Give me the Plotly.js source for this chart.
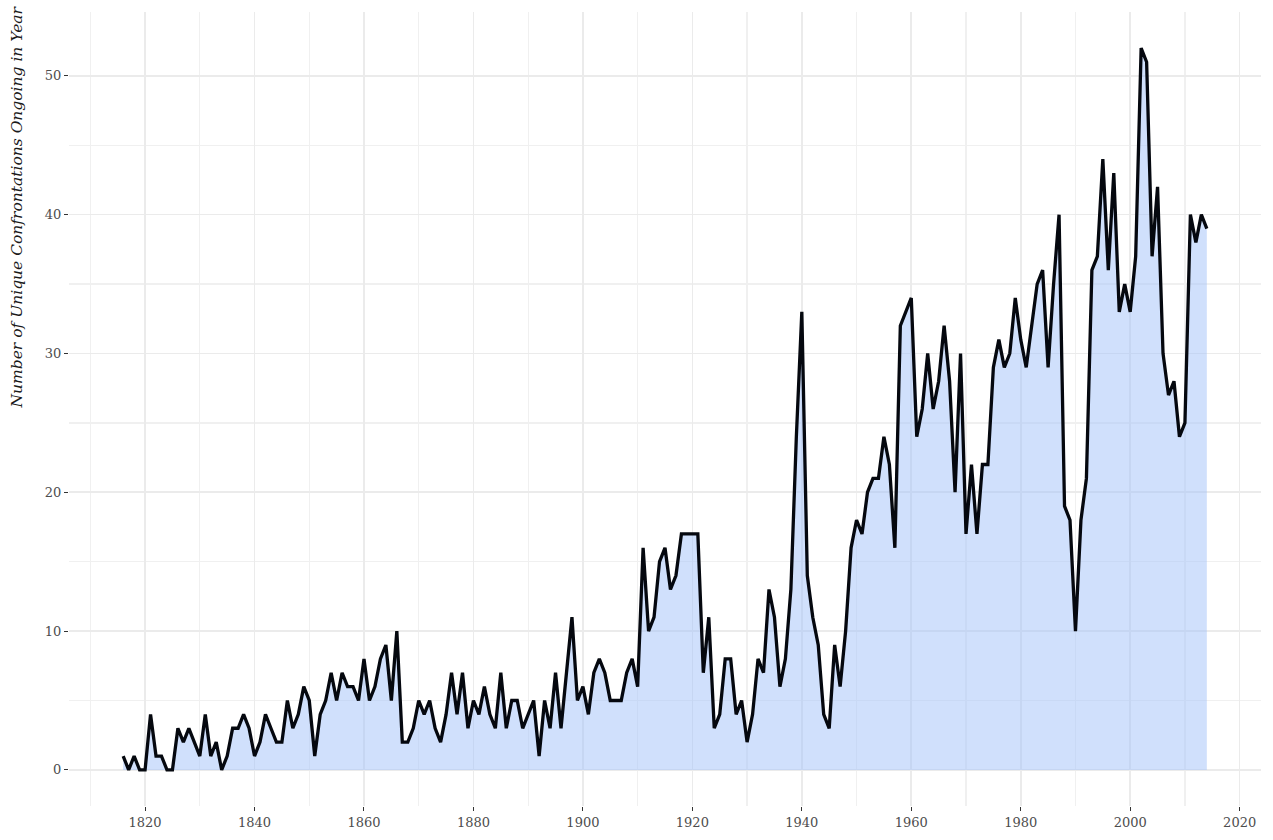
<!DOCTYPE html>
<html>
<head>
<meta charset="utf-8">
<script src="https://cdn.plot.ly/plotly-3.0.1.min.js"></script>
<style>
html,body{margin:0;padding:0;background:#fff;}
#chart{width:1273px;height:840px;}
</style>
</head>
<body>
<div id="chart"></div>
<script>
const years = [
1816,1817,1818,1819,1820,1821,1822,1823,1824,1825,1826,1827,1828,1829,
1830,1831,1832,1833,1834,1835,1836,1837,1838,1839,
1840,1841,1842,1843,1844,1845,1846,1847,1848,1849,
1850,1851,1852,1853,1854,1855,1856,1857,1858,1859,
1860,1861,1862,1863,1864,1865,1866,1867,1868,1869,
1870,1871,1872,1873,1874,1875,1876,1877,1878,1879,
1880,1881,1882,1883,1884,1885,1886,1887,1888,1889,
1890,1891,1892,1893,1894,1895,1896,1897,1898,1899,
1900,1901,1902,1903,1904,1905,1906,1907,1908,1909,
1910,1911,1912,1913,1914,1915,1916,1917,1918,1919,
1920,1921,1922,1923,1924,1925,1926,1927,1928,1929,
1930,1931,1932,1933,1934,1935,1936,1937,1938,1939,
1940,1941,1942,1943,1944,1945,1946,1947,1948,1949,
1950,1951,1952,1953,1954,1955,1956,1957,1958,1959,
1960,1961,1962,1963,1964,1965,1966,1967,1968,1969,
1970,1971,1972,1973,1974,1975,1976,1977,1978,1979,
1980,1981,1982,1983,1984,1985,1986,1987,1988,1989,
1990,1991,1992,1993,1994,1995,1996,1997,1998,1999,
2000,2001,2002,2003,2004,2005,2006,2007,2008,2009,
2010,2011,2012,2013,2014
];

const confrontations = [
1,0,1,0,0,4,1,1,0,0,3,2,3,2,
1,4,1,2,0,1,3,3,4,3,
1,2,4,3,2,2,5,3,4,6,
5,1,4,5,7,5,7,6,6,5,
8,5,6,8,9,5,10,2,2,3,
5,4,5,3,2,4,7,4,7,3,
5,4,6,4,3,7,3,5,5,3,
4,5,1,5,3,7,3,7,11,5,
6,4,7,8,7,5,5,5,7,8,
6,16,10,11,15,16,13,14,17,17,
17,17,7,11,3,4,8,8,4,5,
2,4,8,7,13,11,6,8,13,24,
33,14,11,9,4,3,9,6,10,16,
18,17,20,21,21,24,22,16,32,33,
34,24,26,30,26,28,32,28,20,30,
17,22,17,22,22,29,31,29,30,34,
31,29,32,35,36,29,35,40,19,18,
10,18,21,36,37,44,36,43,33,35,
33,37,52,51,37,42,30,27,28,24,
25,40,38,40,39
];

const yTitle = 'Number of Unique Confrontations Ongoing in Year';

const trace = {
  x: years,
  y: confrontations,
  type: 'scatter',
  mode: 'lines',
  fill: 'tozeroy',
  fillcolor: 'rgba(161,193,249,0.5)',
  line: {color: '#05080f', width: 3.3},
  hoverinfo: 'x+y'
};

const gridMajor = '#ebebeb';
const gridMinor = '#f0f0f0';
const tickFont = {family: 'DejaVu Serif', size: 13, color: '#4d4d4d'};

const layout = {
  width: 1273,
  height: 840,
  margin: {l: 69, r: 12, t: 12, b: 34},
  paper_bgcolor: '#ffffff',
  plot_bgcolor: '#ffffff',
  showlegend: false,
  xaxis: {
    range: [1806.1, 2023.9],
    tick0: 1820,
    dtick: 20,
    showgrid: true,
    gridcolor: gridMajor,
    gridwidth: 1.6,
    zeroline: false,
    showline: false,
    ticks: 'outside',
    ticklen: 4,
    tickwidth: 1,
    tickcolor: '#333333',
    tickfont: tickFont,
    minor: {dtick: 10, showgrid: true, gridcolor: gridMinor, gridwidth: 1.3}
  },
  yaxis: {
    range: [-2.6, 54.6],
    tick0: 0,
    dtick: 10,
    showgrid: true,
    gridcolor: gridMajor,
    gridwidth: 1.6,
    zeroline: false,
    showline: false,
    ticks: 'outside',
    ticklen: 4,
    tickwidth: 1,
    tickcolor: '#333333',
    tickfont: tickFont,
    minor: {tick0: 5, dtick: 10, showgrid: true, gridcolor: gridMinor, gridwidth: 1.3}
  },
  annotations: [{
    text: '<i>' + yTitle + '</i>',
    xref: 'paper', yref: 'paper',
    x: -0.0436, y: 1.0101,
    xanchor: 'center', yanchor: 'top',
    textangle: -90,
    showarrow: false,
    font: {family: 'DejaVu Serif', size: 15.5, color: '#1a1a1a'}
  }]
};

Plotly.newPlot('chart', [trace], layout, {displayModeBar: false, staticPlot: true});
</script>
</body>
</html>
